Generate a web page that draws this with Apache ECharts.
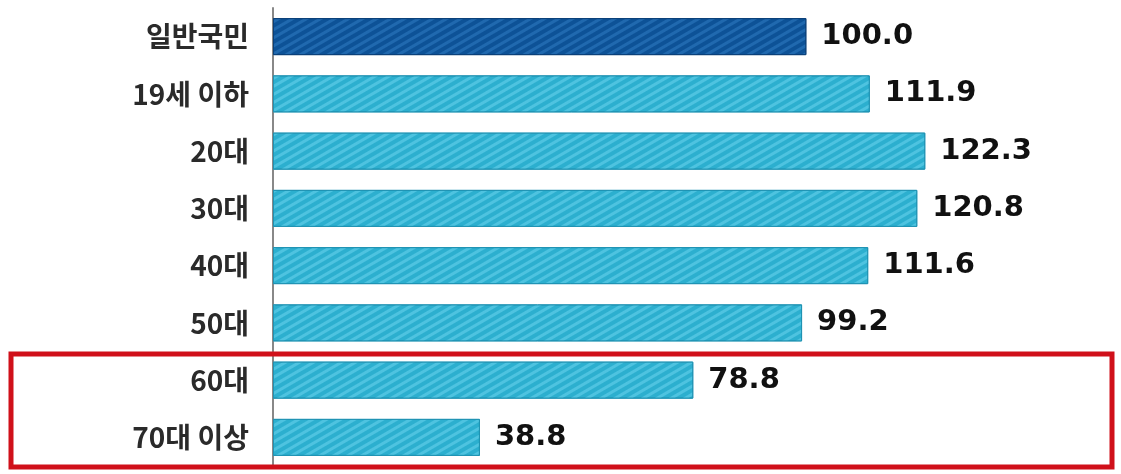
<!DOCTYPE html>
<html>
<head>
<meta charset="utf-8">
<script src="https://cdn.jsdelivr.net/npm/echarts@6/dist/echarts.min.js"></script>
<style>
html,body{margin:0;padding:0;background:#fff;}
#c{width:1121px;height:474px;}
</style>
</head>
<body>
<div id="c"></div>
<script>
const categories = ['일반국민', '19세 이하', '20대', '30대', '40대', '50대', '60대', '70대 이상'];
const values = [100.0, 111.9, 122.3, 120.8, 111.6, 99.2, 78.8, 38.8];

const chart = echarts.init(document.getElementById('c'));
const darkStyle = {
  color: '#0d5297',
  borderColor: '#0a3f78', borderWidth: 1,
  decal: { symbol: 'rect', color: 'rgba(70,150,220,0.35)', dashArrayX: [1, 0], dashArrayY: [3, 4], rotation: -Math.PI / 6 }
};
const cyanStyle = {
  color: '#2cafcf',
  borderColor: '#1f93b3', borderWidth: 1,
  decal: { symbol: 'rect', color: 'rgba(120,220,245,0.45)', dashArrayX: [1, 0], dashArrayY: [3, 4], rotation: -Math.PI / 6 }
};

chart.setOption({
  animation: false,
  grid: { left: 273, right: 48, top: 8, bottom: 8 },
  xAxis: {
    type: 'value', min: 0, max: 150,
    show: false
  },
  yAxis: {
    type: 'category', data: categories, inverse: true,
    axisLine: { show: true, lineStyle: { color: '#888', width: 2 } },
    axisTick: { show: false },
    axisLabel: {
      margin: 24, fontSize: 28, color: '#2a2a2a',
      fontFamily: 'Noto Sans CJK KR', fontWeight: 'bold'
    }
  },
  series: [{
    type: 'bar',
    barWidth: 37,
    data: values.map((v, i) => ({ value: v, itemStyle: i === 0 ? darkStyle : cyanStyle })),
    label: {
      show: true, position: 'right', distance: 15,
      formatter: p => p.value.toFixed(1),
      fontSize: 29, fontWeight: 'bold', color: '#111',
      fontFamily: 'DejaVu Sans'
    }
  }],
  graphic: [{
    type: 'rect',
    shape: { x: 11, y: 354, width: 1101, height: 113 },
    style: { fill: 'none', stroke: '#d0101a', lineWidth: 5 },
    z: 100
  }]
});
</script>
</body>
</html>
